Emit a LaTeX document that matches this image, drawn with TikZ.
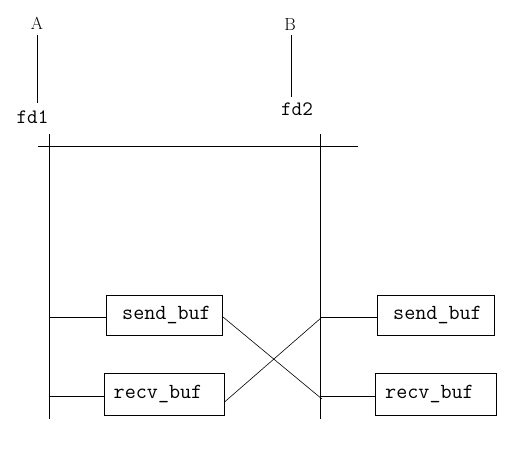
\documentclass[tikz,border=0pt]{standalone}
\usepackage{fontspec}
\begin{document}
\begin{tikzpicture}[x=1pt,y=-1pt,
  line/.style={line width=1pt},
  thin line/.style={line width=0.6pt},
  bufbox/.style={draw,line width=1pt,rectangle,inner sep=0pt,font=\ttfamily\fontsize{21.5}{21.5}\selectfont},
  lbl/.style={inner sep=0pt,font=\fontsize{17.5}{17.5}\selectfont},
  mono/.style={inner sep=0pt,font=\ttfamily\fontsize{20.5}{20.5}\selectfont}]
\useasboundingbox (0,0) rectangle (519,452);
% labels
\node[lbl] (A) at (37,23) {A};
\node[lbl] (B) at (290,25) {B};
\node[mono] (fd1) at (32.5,117) {fd1};
\node[mono] (fd2) at (297,109) {fd2};
\coordinate (a1) at (37,35);
\coordinate (a2) at (37,103);
\coordinate (b1) at (291,35);
\coordinate (b2) at (291,97);
\draw[line] (a1) -- (a2);
\draw[line] (b1) -- (b2);
% bus lines
\coordinate (h1) at (38,146);
\coordinate (h2) at (358,146);
\draw[line] (h1) -- (h2);
\coordinate (lt) at (49.5,134);
\coordinate (lb) at (49.5,419);
\coordinate (rt) at (320.5,134);
\coordinate (rb) at (320.5,419);
\draw[line] (lt) -- (lb);
\draw[line] (rt) -- (rb);
% boxes
\node[bufbox,minimum width=116pt,minimum height=40pt] (ls) at (164.5,315) {\hspace*{4pt}send\_buf};
\node[bufbox,minimum width=120pt,minimum height=42pt] (lr) at (164,394) {\hspace*{-12pt}recv\_buf};
\node[bufbox,minimum width=117pt,minimum height=40pt] (rs) at (435.5,315) {\hspace*{4pt}send\_buf};
\node[bufbox,minimum width=121pt,minimum height=42pt] (rr) at (435.5,394) {\hspace*{-12pt}recv\_buf};
% connectors from bus to boxes
\coordinate (lsj) at (50,317);
\coordinate (lrj) at (50,396);
\coordinate (rsj) at (321,317);
\coordinate (rrj) at (321,396);
\draw[line] (lsj) -- (ls.west |- lsj);
\draw[line] (lrj) -- (lr.west |- lrj);
\draw[line] (rsj) -- (rs.west |- rsj);
\draw[line] (rrj) -- (rr.west |- rrj);
% crossing lines
\coordinate (x1e) at (322,399);
\coordinate (x2e) at (321,318);
\draw[thin line] (ls.east |- lsj) -- (x1e);
\draw[thin line] ([yshift=-6pt]lr.east |- lrj) -- (x2e);
\end{tikzpicture}
\end{document}
